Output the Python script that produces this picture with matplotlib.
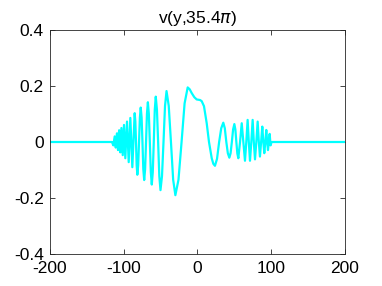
import numpy as np
import matplotlib
matplotlib.use("Agg")
import matplotlib.pyplot as plt

# points (y position, value)
y_pos = [-200, -116, -114.2, -112.3, -110.9, -109.2, -107.8, -106.3, -104.7,
         -103.2, -101.4, -99.7, -97.9, -95.6, -93.3, -91.1, -88.4, -85.2,
         -84.3, -83.4, -82.5, -81.6,
         -80.45, -79.3, -78.15, -77.0,
         -75.8, -74.65, -73.5, -72.3,
         -71.05, -69.8, -68.55, -67.3,
         -66.0, -64.65, -63.3, -62.0,
         -60.65, -59.3, -57.95, -56.6,
         -55.0, -53.4, -51.8, -50.2,
         -48.15, -46.1, -44.05, -42.0,
         -39.0, -36.0, -33.0, -30.0,
         -25.8, -21.6, -17.5, -13.3,
         -10.5, -7.9, -4.3, -1.1, 3.4, 5.7, 8.8, 12.5, 15.6, 19.3, 21.5, 23.7,
         26.5, 29.35, 32.2, 35.0,
         37.05, 39.1, 41.15, 43.2,
         44.9, 46.6, 48.3, 50.0,
         51.35, 52.7, 54.05, 55.4,
         57.7, 60.0, 62.2, 64.4, 66.2, 68.0, 69.6, 71.2, 73.0, 74.8,
         76.4, 78.0, 79.8, 81.6, 83.2, 84.7, 86.3, 87.9, 89.3, 90.6, 92.0,
         93.3, 94.5, 95.6, 96.8, 97.9, 99.1, 100.5, 200]
v_val = [0, 0, -0.012, 0.020, -0.020, 0.031, -0.029, 0.042, -0.037,
         0.050, -0.047, 0.061, -0.058, 0.073, -0.072, 0.086, -0.090, 0.103,
         0.073, 0.0, -0.083, -0.117,
         -0.083, 0.0, 0.087, 0.123,
         0.087, 0.0, -0.097, -0.136,
         -0.097, 0.0, 0.101, 0.142,
         0.101, 0.0, -0.108, -0.152,
         -0.108, 0.0, 0.115, 0.162,
         0.115, 0.0, -0.122, -0.172,
         -0.122, 0.0, 0.129, 0.182,
         0.129, 0.0, -0.135, -0.190,
         -0.135, 0.0, 0.138, 0.195,
         0.188, 0.175, 0.160, 0.152, 0.150, 0.146, 0.128, 0.067, 0.0, -0.058, -0.078, -0.085,
         -0.060, 0.0, 0.049, 0.069,
         0.049, 0.0, -0.040, -0.056,
         -0.040, 0.0, 0.045, 0.064,
         0.045, 0.0, -0.041, -0.058,
         0.0, 0.067, 0.0, -0.067, 0.0, 0.079, 0.0, -0.067, 0.0, 0.079,
         0.0, -0.062, 0.0, 0.073, 0.0, -0.052, 0.0, 0.055, 0.0, -0.040, 0.0,
         0.043, 0.0, -0.029, 0.0, 0.029, -0.012, 0, 0]

x_ticks = [-200, -100, 0, 100, 200]
y_ticks = [-0.4, -0.2, 0, 0.2, 0.4]
x_labels = ['-200', '-100', '0', '100', '200']
y_labels = ['-0.4', '-0.2', '0', '0.2', '0.4']

plt.rcParams['font.family'] = ['Liberation Sans', 'DejaVu Sans']

fig = plt.figure(figsize=(3.82, 2.86), dpi=100)
ax = fig.add_axes([0.131, 0.112, 0.772, 0.783])
ax.plot(y_pos, v_val, color=(0, 1, 1), lw=1.6)

ax.set_xlim(-200, 200)
ax.set_ylim(-0.4, 0.4)
ax.set_xticks(x_ticks)
ax.set_yticks(y_ticks)
ax.set_xticklabels(x_labels)
ax.set_yticklabels(y_labels)
ax.tick_params(direction='in', top=True, right=True, length=3.5, width=0.6,
               labelsize=12.5, colors='#262626', labelcolor='black')
ax.tick_params(axis='x', pad=5)
ax.tick_params(axis='y', pad=4.5)
for s in ax.spines.values():
    s.set_linewidth(0.6)
    s.set_color('#262626')

ax.set_title(r'v(y,35.4$\pi$)', fontsize=12.5, pad=5)

fig.savefig('out.png', dpi=100)
